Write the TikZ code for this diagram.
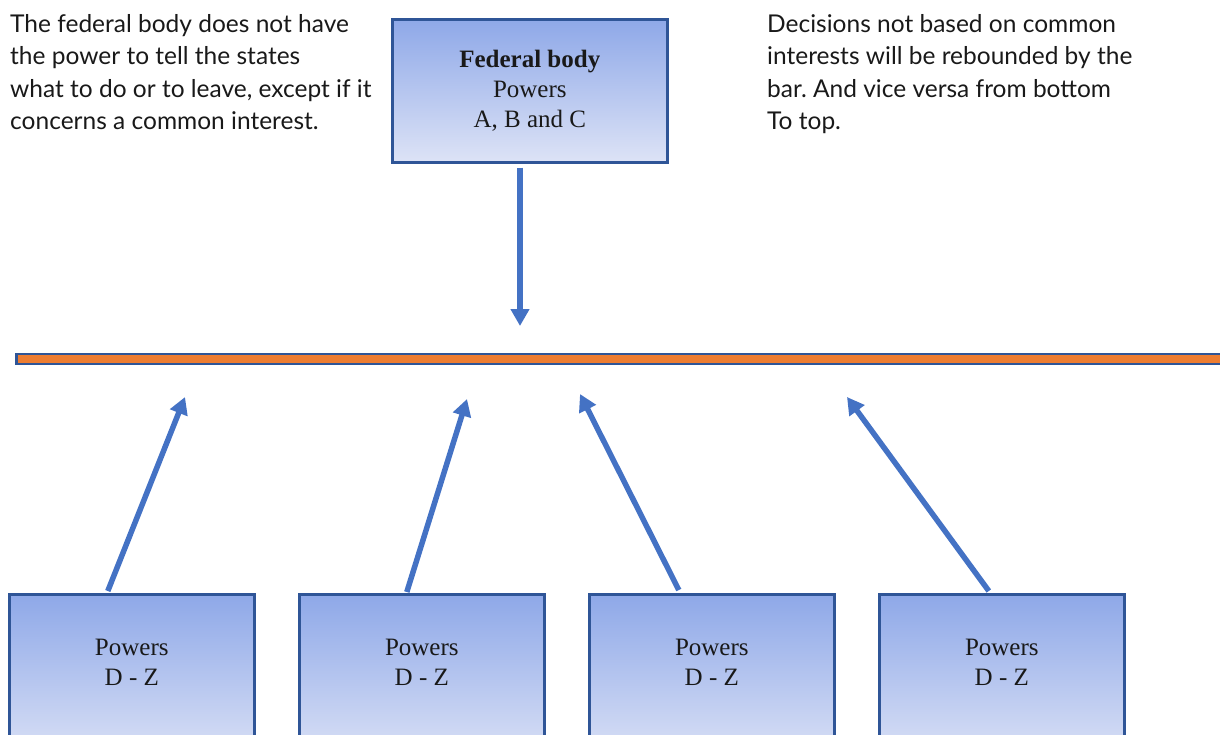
\documentclass[tikz,border=0pt]{standalone}
\usepackage{fontspec}
\setmainfont{Liberation Serif}
\newfontfamily\notefont{Lato}
\usetikzlibrary{arrows.meta}
\frenchspacing
\definecolor{edgeblue}{HTML}{2F5597}
\definecolor{arrowblue}{HTML}{4472C4}
\definecolor{shadetop}{HTML}{8EA8E8}
\definecolor{shadebot}{HTML}{DDE3F6}
\definecolor{barorange}{HTML}{ED7D31}
\tikzset{
  powerbox/.style={draw=edgeblue, line width=2.6pt, top color=shadetop, bottom color=shadebot,
    inner sep=0pt, anchor=north west},
  boxtext/.style={font=\fontsize{25}{30}\selectfont, align=center, text=black!90},
  note/.style={font=\notefont\fontsize{24.5}{32.5}\selectfont, align=left, anchor=north west, inner sep=0pt, text=black!90},
  pointer/.style={draw=arrowblue, line width=5.5pt, -{Triangle[width=18pt,length=17pt]}},
}
\begin{document}
\begin{tikzpicture}[x=1pt,y=1pt]
\useasboundingbox (0,0) rectangle (1220,-734);
\clip (0,0) rectangle (1220,-734);

% notes
\node[note] (left) at (10,-14) {The federal body does not have\\the power to tell the states\\what to do or to leave, except if it\\concerns a common interest.};
\node[note] (right) at (767,-14) {Decisions not based on common\\interests will be rebounded by the\\bar. And vice versa from bottom\\To top.};

% federal body
\node[powerbox, minimum width=275pt, minimum height=143pt] (fed) at (391,-18) {};
\node[boxtext] (fedtext) at (fed.center) {\textbf{Federal body}\\Powers\\A, B and C};

% the bar
\node[draw=edgeblue, fill=barorange, line width=2.6pt, minimum width=1230pt, minimum height=10pt,
  inner sep=0pt, anchor=north west] (bar) at (15,-352.5) {};

\coordinate (fedtip) at (520,-326);
\coordinate (fedstart) at ([yshift=-4pt]fed.south -| fedtip);
\draw[pointer] (fedstart) -- (fedtip);

% member states
\foreach \i/\x in {1/8,2/298,3/588,4/878}{
  \node[powerbox, minimum width=245pt, minimum height=170pt] (s\i) at (\x,-593) {};
  \node[boxtext] (s\i text) at ([yshift=-69pt]s\i.north) {Powers\\D - Z};
}

\coordinate (t1) at (185,-397);
\coordinate (t2) at (467,-399);
\coordinate (t3) at (580,-394);
\coordinate (t4) at (847,-397);
\draw[pointer] ([xshift=-24pt,yshift=2pt]s1.north) -- (t1);
\draw[pointer] ([xshift=-15pt,yshift=1pt]s2.north) -- (t2);
\draw[pointer] ([xshift=-33pt,yshift=3pt]s3.north) -- (t3);
\draw[pointer] ([xshift=-13pt,yshift=2pt]s4.north) -- (t4);
\end{tikzpicture}
\end{document}
